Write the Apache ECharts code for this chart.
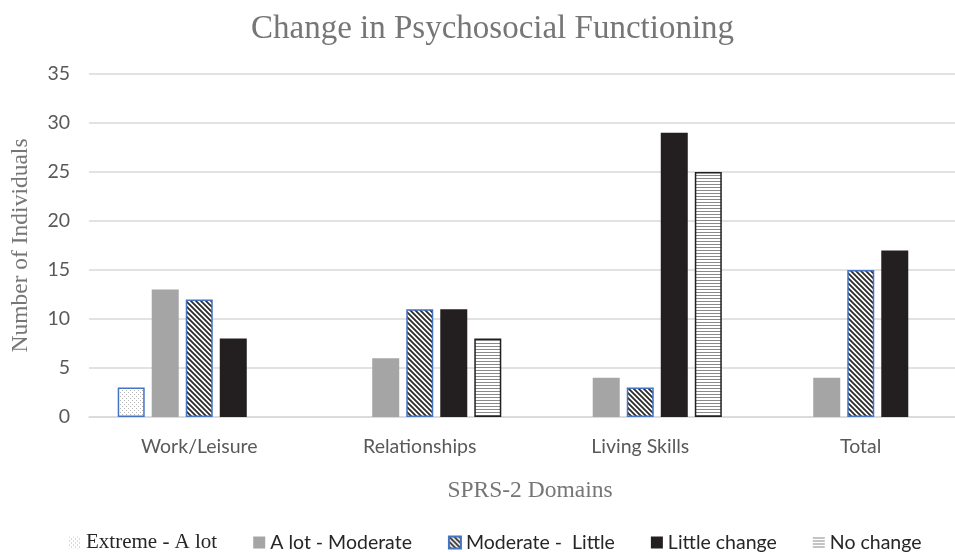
<!DOCTYPE html>
<html>
<head>
<meta charset="utf-8">
<script src="https://cdn.jsdelivr.net/npm/echarts@6/dist/echarts.min.js"></script>
<style>
  html, body { margin: 0; padding: 0; background: #fff; }
  #chart { width: 955px; height: 552px; }
</style>
</head>
<body>
<div id="chart"></div>
<script>
// data
const domains = ['Work/Leisure', 'Relationships', 'Living Skills', 'Total'];
const seriesNames = ['Extreme - A lot', 'A lot - Moderate', 'Moderate -  Little', 'Little change', 'No change'];
const extremeALot = [3, null, null, null];
const aLotModerate = [13, 6, 4, 4];
const moderateLittle = [12, 11, 3, 15];
const littleChange = [8, 11, 29, 17];
const noChange = [null, 8, 25, null];
const yTicks = [0, 35, 5];   // min, max, step

// small canvas tiles used as bar fills
function tile (w, h, draw) {
  const c = document.createElement('canvas');
  c.width = w; c.height = h;
  const ctx = c.getContext('2d');
  ctx.fillStyle = '#fff';
  ctx.fillRect(0, 0, w, h);
  draw(ctx, w, h);
  return {image: c, repeat: 'repeat'};
}
const dots = tile(4, 4, (ctx) => {
  ctx.fillStyle = '#b5b5b5';
  ctx.fillRect(0, 0, 1, 1);
  ctx.fillRect(2, 2, 1, 1);
});
const hatch = tile(5, 5, (ctx, s) => {
  ctx.strokeStyle = '#2b2b2b';
  ctx.lineWidth = 1.8;
  ctx.beginPath();
  ctx.moveTo(-1, -1); ctx.lineTo(s + 1, s + 1);
  ctx.moveTo(s - 2, -2); ctx.lineTo(s + 2, 2);
  ctx.moveTo(-2, s - 2); ctx.lineTo(2, s + 2);
  ctx.stroke();
});
const hlines = tile(4, 3, (ctx) => {
  ctx.fillStyle = '#8a8a8a';
  ctx.fillRect(0, 1, 4, 1);
});

const serif = 'Liberation Serif';
const sans = 'Lato';

const styles = [
  {color: dots, borderColor: '#4472c4', borderWidth: 1.5},
  {color: '#a5a5a5', borderColor: '#a5a5a5', borderWidth: 0},
  {color: hatch, borderColor: '#4472c4', borderWidth: 1.5},
  {color: '#231f20', borderColor: '#231f20', borderWidth: 0},
  {color: hlines, borderColor: '#231f20', borderWidth: 1.5},
];
const values = [extremeALot, aLotModerate, moderateLittle, littleChange, noChange];

const chart = echarts.init(document.getElementById('chart'));
chart.setOption({
  animation: false,
  title: {
    text: 'Change in Psychosocial Functioning',
    left: 246,
    top: 8,
    textStyle: {fontFamily: serif, fontSize: 33, fontWeight: 'normal', color: '#767676'}
  },
  legend: {
    top: 527,
    left: 64,
    icon: 'rect',
    itemWidth: 12,
    itemHeight: 12,
    itemGap: 36,
    textStyle: {fontFamily: sans, fontSize: 19.5, color: '#262626'},
    data: seriesNames.map((n, i) => {
      const item = {name: n};
      if (i == 0) {
        item.textStyle = {fontFamily: serif, fontSize: 21};
        item.itemStyle = {borderWidth: 0};
      }
      if (i == 4) item.itemStyle = {borderWidth: 0};
      return item;
    })
  },
  grid: {left: 89, top: 74, width: 882, height: 343, outerBoundsMode: 'none'},
  xAxis: {
    type: 'category',
    data: domains,
    name: 'SPRS-2 Domains',
    nameLocation: 'middle',
    nameGap: 62,
    nameTextStyle: {fontFamily: serif, fontSize: 23.5, color: '#767676'},
    axisLine: {lineStyle: {color: '#d9d9d9', width: 1.5}},
    axisTick: {show: false},
    axisLabel: {fontFamily: sans, fontSize: 19.5, color: '#595959', margin: 20}
  },
  yAxis: {
    type: 'value',
    min: yTicks[0],
    max: yTicks[1],
    interval: yTicks[2],
    name: 'Number of Individuals',
    nameLocation: 'middle',
    nameGap: 56,
    nameTextStyle: {fontFamily: serif, fontSize: 23.5, color: '#767676'},
    axisLine: {show: false},
    axisTick: {show: false},
    splitLine: {lineStyle: {color: '#d9d9d9', width: 1.5}},
    axisLabel: {fontFamily: sans, fontSize: 19.5, color: '#595959', margin: 19}
  },
  series: seriesNames.map((n, i) => ({
    name: n,
    type: 'bar',
    data: values[i],
    barWidth: 27,
    barGap: '26%',
    itemStyle: styles[i]
  }))
});
</script>
</body>
</html>
